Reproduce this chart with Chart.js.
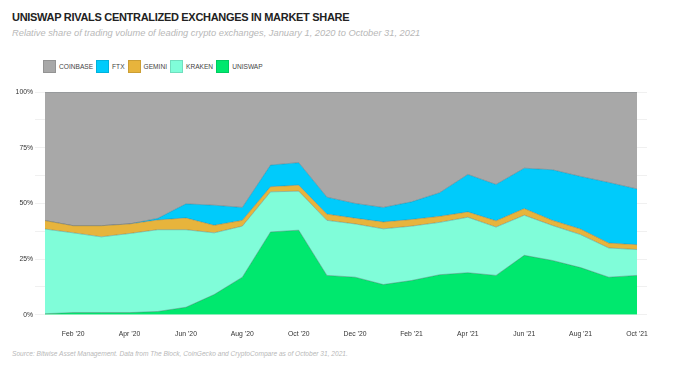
<!DOCTYPE html>
<html>
<head>
<meta charset="utf-8">
<script src="https://cdn.jsdelivr.net/npm/chart.js@4.4.1/dist/chart.umd.min.js"></script>
<style>
  html, body { margin: 0; padding: 0; background: #fff; }
  body { width: 675px; height: 377px; position: relative; overflow: hidden; font-family: "Liberation Sans", Arial, sans-serif; }
  #title { position: absolute; left: 12px; top: 11px; font-size: 11px; font-weight: bold; color: #222; letter-spacing: -0.3px; white-space: nowrap; }
  #subtitle { position: absolute; left: 12px; top: 28px; font-size: 9.3px; font-style: italic; color: #b8b8b8; white-space: nowrap; }
  #legend { position: absolute; left: 43px; top: 60px; display: flex; font-size: 6.6px; color: #444; white-space: nowrap; }
  #legend span.item { display: flex; align-items: center; margin-right: 3px; }
  #legend span.box { width: 13px; height: 13px; margin-right: 3px; box-sizing: border-box; border: 1px solid rgba(0,0,0,0.12); }
  #source { position: absolute; left: 12px; top: 350px; font-size: 6.6px; font-style: italic; color: #b8b8b8; white-space: nowrap; }
  #wrap { position: absolute; left: 0; top: 80px; width: 675px; height: 265px; }
</style>
</head>
<body>
<div id="title">UNISWAP RIVALS CENTRALIZED EXCHANGES IN MARKET SHARE</div>
<div id="subtitle">Relative share of trading volume of leading crypto exchanges, January 1, 2020 to October 31, 2021</div>
<div id="legend"></div>
<div id="wrap"><canvas id="share"></canvas></div>
<div id="source">Source: Bitwise Asset Management. Data from The Block, CoinGecko and CryptoCompare as of October 31, 2021.</div>

<script>
"use strict";

/* --- DATA (share of volume, %) --- */

const months = [
  "Jan ’20", "Feb ’20", "Mar ’20", "Apr ’20", "May ’20", "Jun ’20", "Jul ’20", "Aug ’20", "Sep ’20", "Oct ’20", "Nov ’20", "Dec ’20",
  "Jan ’21", "Feb ’21", "Mar ’21", "Apr ’21", "May ’21", "Jun ’21", "Jul ’21", "Aug ’21", "Sep ’21", "Oct ’21"
];

const uniswap  = [0.5, 1, 1, 1, 1.5, 3.4, 9.1, 16.9, 37.2, 38, 17.7, 16.9, 13.6, 15.4, 18, 18.9, 17.7, 26.7, 24.4, 21.2, 16.9, 17.7];
const kraken   = [38, 35.8, 34, 35.5, 36.7, 34.8, 27.7, 22.9, 18, 17.5, 24.7, 23.9, 25, 24.4, 23.5, 24.9, 21.7, 18, 15.7, 14.8, 13.1, 11.6];
const gemini   = [3.8, 3.2, 5, 4.3, 4.4, 5.3, 3.4, 2.6, 2.3, 2.7, 2.8, 2.6, 3.1, 3, 2.7, 2.4, 2.8, 3, 2.3, 2.5, 2.2, 2.2];
const ftx      = [0, 0, 0, 0, 0.7, 6.3, 9, 5.8, 9.7, 10.1, 7.6, 6.6, 6.5, 7.9, 10.6, 16.8, 16.3, 18.1, 22.7, 23.6, 27.2, 25];
const coinbase = [57.7, 60, 60, 59.2, 56.7, 50.2, 50.8, 51.8, 32.8, 31.7, 47.2, 50, 51.8, 49.3, 45.2, 37, 41.5, 34.2, 34.9, 37.9, 40.6, 43.5];

const yTicks = [0, 25, 50, 75, 100];

/* --- CHART --- */

// bottom to top of the stack
const series = [
  { label: "UNISWAP",  data: uniswap,  color: "#00e86e" },
  { label: "KRAKEN",   data: kraken,   color: "#80fdd9" },
  { label: "GEMINI",   data: gemini,   color: "#e7b43c" },
  { label: "FTX",      data: ftx,      color: "#00cbfb" },
  { label: "COINBASE", data: coinbase, color: "#a8a8a8" }
];

const ctx = document.getElementById("share");

const shareChart = new Chart(ctx, {
  type: "line",
  data: {
    labels: months,
    datasets: series.map((s, i) => ({
      label: s.label,
      data: s.data,
      backgroundColor: s.color,
      borderColor: "rgba(70,90,100,0.35)",
      borderWidth: 1,
      fill: i === 0 ? "origin" : "-1",
      pointRadius: 0,
      tension: 0
    }))
  },
  options: {
    responsive: true,
    maintainAspectRatio: false,
    animation: false,
    layout: { padding: { top: 12, right: 28, bottom: 0, left: 0 } },
    plugins: {
      legend: { display: false },
      tooltip: { enabled: false },
      title: { display: false }
    },
    scales: {
      x: {
        offset: false,
        grid: { display: false },
        border: { display: false },
        ticks: {
          autoSkip: false,
          maxRotation: 0,
          padding: 7,
          color: "#333",
          font: { family: "Liberation Sans", size: 6.8 },
          callback: function (value, index) {
            return index % 2 === 1 ? months[index] : "";
          }
        }
      },
      y: {
        stacked: true,
        min: 0,
        max: 100,
        z: 1,
        afterFit: function (scale) { scale.width = 45; },
        grid: {
          color: "rgba(0,0,0,0.06)",
          lineWidth: 1,
          drawTicks: true,
          tickLength: 10
        },
        border: { display: false },
        ticks: {
          stepSize: 12.5,
          padding: 2,
          color: "#333",
          font: { family: "Liberation Sans", size: 6.8 },
          callback: function (value) {
            return yTicks.includes(value) ? value + "%" : "";
          }
        }
      },
      y2: {
        position: "right",
        min: 0,
        max: 100,
        z: 1,
        afterFit: function (scale) { scale.width = 10; },
        grid: {
          color: "rgba(0,0,0,0.06)",
          drawOnChartArea: false,
          drawTicks: true,
          tickLength: 10
        },
        border: { display: false },
        ticks: { stepSize: 12.5, display: false }
      }
    }
  }
});

/* --- LEGEND (same order as the original) --- */

const legend = document.getElementById("legend");
series.slice().reverse().forEach(s => {
  const item = document.createElement("span");
  item.className = "item";
  const box = document.createElement("span");
  box.className = "box";
  box.style.background = s.color;
  item.appendChild(box);
  item.appendChild(document.createTextNode(s.label));
  legend.appendChild(item);
});
</script>
</body>
</html>
